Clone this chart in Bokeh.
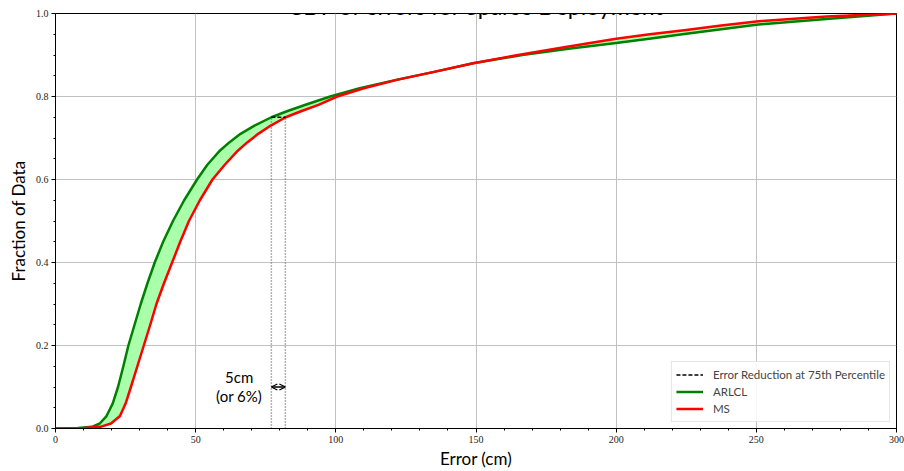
from bokeh.plotting import figure
from bokeh.models import (Range1d, SingleIntervalTicker, Legend, LegendItem, Label,
                          Arrow, OpenHead)
from bokeh.embed import file_html
from bokeh.resources import INLINE

# ---- data ----
# ARLCL curve: fraction of data vs error (cm)
arlcl_frac = [0.0, 0.001, 0.004, 0.012, 0.03, 0.06, 0.1, 0.15, 0.2, 0.25, 0.3, 0.35, 0.4,
              0.45, 0.5, 0.55, 0.6, 0.635, 0.67, 0.69, 0.71, 0.73, 0.75, 0.765, 0.78, 0.8,
              0.82, 0.84, 0.86, 0.88, 0.9, 0.915, 0.929, 0.94, 0.951, 0.962, 0.973, 0.987, 1.0]
arlcl_err = [0.0, 8.0, 13.0, 15.8, 18.2, 20.4, 22.3, 24.2, 26.0, 28.2, 30.4, 32.8, 35.4,
             38.4, 41.9, 45.9, 50.5, 54.1, 58.7, 62.1, 66.0, 71.0, 77.0, 82.8, 89.2, 98.0,
             108.5, 121.5, 135.5, 149.0, 166.5, 183.0, 200.0, 212.5, 225.0, 237.5, 250.0, 275.0, 300.0]
# MS curve
ms_frac = [0.0, 0.001, 0.004, 0.012, 0.03, 0.06, 0.1, 0.15, 0.2, 0.25, 0.3, 0.35, 0.4,
           0.45, 0.5, 0.55, 0.6, 0.635, 0.67, 0.69, 0.71, 0.73, 0.75, 0.765, 0.78, 0.8,
           0.82, 0.84, 0.86, 0.88, 0.9, 0.92, 0.939, 0.95, 0.96, 0.971, 0.981, 0.993, 1.0]
ms_err = [0.0, 10.0, 16.0, 19.8, 23.0, 25.0, 26.9, 29.2, 31.5, 33.8, 36.0, 38.7, 41.6,
          44.5, 47.6, 51.5, 56.0, 60.3, 65.1, 68.5, 72.3, 76.8, 82.1, 87.8, 93.8, 100.5,
          110.0, 121.8, 135.5, 149.0, 165.0, 182.5, 200.0, 212.0, 225.0, 237.5, 250.0, 275.0, 300.0]

percentile_level = 0.75
arlcl_p75 = 77.0
ms_p75 = 82.0
arrow_level = 0.1
annot_lines = ["5cm", "(or 6%)"]

x_ticks = [0, 50, 100, 150, 200, 250, 300]
y_ticks = [0.0, 0.2, 0.4, 0.6, 0.8, 1.0]
y_tick_labels = {t: f"{t:.1f}" for t in y_ticks}

title_text = "CDF of errors for Sparse Deployment"
x_label = "Error (cm)"
y_label = "Fraction of Data"
series_names = ["Error Reduction at 75th Percentile", "ARLCL", "MS"]

SANS = "Lato"
SERIF = "Liberation Serif"

p = figure(width=904, height=471, x_range=Range1d(0, 300), y_range=Range1d(0, 1),
           output_backend="svg", toolbar_location=None,
           min_border_left=55, min_border_right=8, min_border_top=13, min_border_bottom=42)
p.background_fill_color = "white"
p.border_fill_color = "white"
p.outline_line_color = "black"
p.outline_line_width = 1

# axes
p.xaxis.ticker = SingleIntervalTicker(interval=50, num_minor_ticks=5)
p.yaxis.ticker = SingleIntervalTicker(interval=0.2, num_minor_ticks=4)
p.yaxis.major_label_overrides = y_tick_labels
for ax in (p.xaxis[0], p.yaxis[0]):
    ax.axis_line_color = "black"
    ax.major_tick_in = 0
    ax.major_tick_out = 4
    ax.minor_tick_in = 0
    ax.minor_tick_out = 2
    ax.major_tick_line_color = "black"
    ax.minor_tick_line_color = "black"
    ax.major_label_text_font = SERIF
    ax.major_label_text_font_size = "10px"
    ax.major_label_text_color = "#222222"
    ax.axis_label_text_font = SANS
    ax.axis_label_text_font_size = "17px"
    ax.axis_label_text_font_style = "normal"
    ax.axis_label_text_color = "black"
p.xaxis.axis_label = x_label
p.yaxis.axis_label = y_label
p.xaxis.major_label_standoff = 3
p.yaxis.major_label_standoff = 3
p.xaxis.axis_label_standoff = 2
p.yaxis.axis_label_standoff = 4

p.grid.grid_line_color = "#c0c0c0"
p.grid.grid_line_width = 1
p.xgrid.ticker = SingleIntervalTicker(interval=50)
p.ygrid.ticker = SingleIntervalTicker(interval=0.2)

# fill between the two curves (polygon: ARLCL forward, MS backward)
p.patch(x=arlcl_err + ms_err[::-1], y=arlcl_frac + ms_frac[::-1],
        fill_color="#aaffaa", fill_alpha=1.0, line_color=None)

# dotted verticals at the 75th percentile
p.segment(x0=[arlcl_p75, ms_p75], y0=[0, 0], x1=[arlcl_p75, ms_p75],
          y1=[percentile_level, percentile_level],
          line_color="#666666", line_width=1.5, line_dash="1 2")

r_green = p.line(x=arlcl_err, y=arlcl_frac, line_color="green", line_width=2.5,
                 line_join="round")
r_red = p.line(x=ms_err, y=ms_frac, line_color="red", line_width=2.5, line_join="round")

r_dash = p.line(x=[arlcl_p75, ms_p75], y=[percentile_level, percentile_level],
                line_color="black", line_width=1.5, line_dash="4 2")

# double arrow
p.add_layout(Arrow(x_start=arlcl_p75, y_start=arrow_level, x_end=ms_p75, y_end=arrow_level,
                   start=OpenHead(size=6, line_width=1.3, line_color="black"),
                   end=OpenHead(size=6, line_width=1.3, line_color="black"),
                   line_width=1.3, line_color="black"))

p.add_layout(Label(x=65.5, y=0.123, text=annot_lines[0], text_align="center",
                   text_baseline="middle", text_font=SANS, text_font_size="15px",
                   text_color="black"))
p.add_layout(Label(x=65.5, y=0.079, text=annot_lines[1], text_align="center",
                   text_baseline="middle", text_font=SANS, text_font_size="15px",
                   text_color="black"))

# title (partly cut off at the top, as in the reference)
p.add_layout(Label(x=150, y=1.0185, text=title_text, text_align="center",
                   text_baseline="alphabetic", text_font=SANS, text_font_size="23px",
                   text_color="black"))

legend = Legend(items=[LegendItem(label=series_names[0], renderers=[r_dash]),
                       LegendItem(label=series_names[1], renderers=[r_green]),
                       LegendItem(label=series_names[2], renderers=[r_red])],
                location="bottom_right")
legend.margin = 6
legend.padding = 4
legend.spacing = 0
legend.glyph_width = 27
legend.glyph_height = 17
legend.label_height = 17
legend.label_standoff = 10
legend.label_text_font = SANS
legend.label_text_font_size = "11.5px"
legend.border_line_color = "#cccccc"
legend.border_line_width = 1
legend.background_fill_alpha = 0.85
p.add_layout(legend)

open("out.html", "w").write(file_html(p, INLINE))
